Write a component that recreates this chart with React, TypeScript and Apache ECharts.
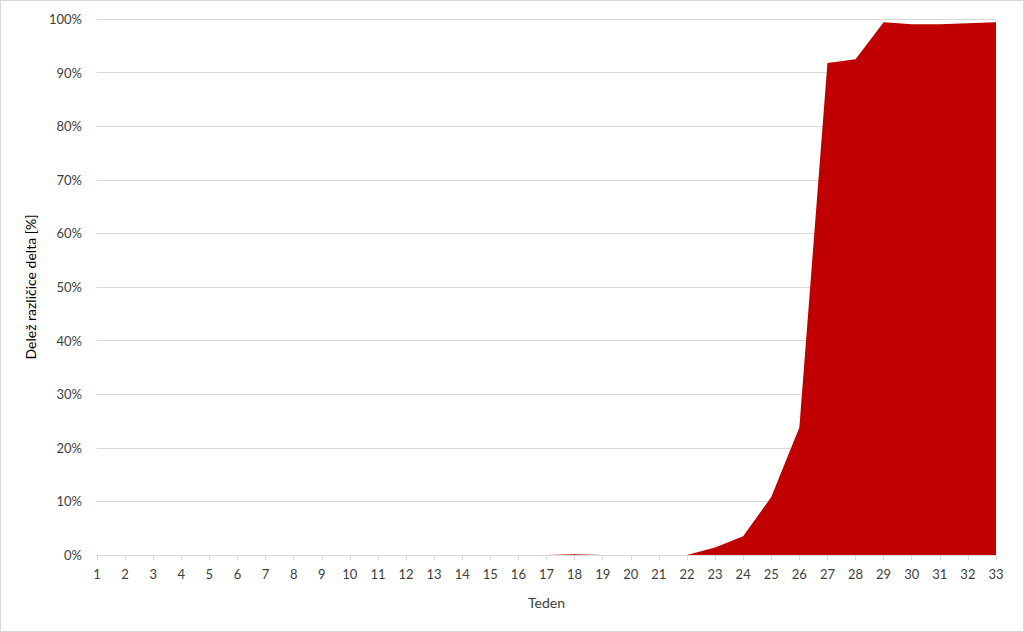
import React, { useEffect, useRef } from "react";
import * as echarts from "echarts";

const weeks = Array.from({ length: 33 }, (_, i) => String(i + 1));
const deltaShare = [
  0, 0, 0, 0, 0, 0, 0, 0, 0, 0,
  0, 0, 0, 0, 0, 0, 0, 0.15, 0, 0,
  0, 0, 1.4, 3.5, 10.8, 23.8, 91.8, 92.5, 99.4, 99.0,
  99.0, 99.2, 99.4,
];
const yTicks = [0, 10, 20, 30, 40, 50, 60, 70, 80, 90, 100];

export default function App() {
  const ref = useRef<HTMLDivElement>(null);
  useEffect(() => {
    document.body.style.margin = "0";
    const chart = echarts.init(ref.current!, null, { renderer: "svg" });
    const font = "Lato, 'Open Sans', sans-serif";
    chart.setOption({
      animation: false,
      backgroundColor: "transparent",
      grid: { left: 97, right: 28, top: 19, bottom: 77 },
      xAxis: {
        type: "category",
        data: weeks,
        boundaryGap: false,
        name: "Teden",
        nameLocation: "middle",
        nameGap: 40,
        nameTextStyle: { color: "#404040", fontSize: 14, fontFamily: font },
        axisLine: { lineStyle: { color: "#D9D9D9", width: 1 } },
        axisTick: { show: true, length: 5, lineStyle: { color: "#D9D9D9" } },
        axisLabel: { color: "#404040", fontSize: 13, fontFamily: font, margin: 12, interval: 0 },
      },
      yAxis: {
        type: "value",
        min: 0,
        max: 100,
        interval: 10,
        name: "Delež različice delta [%]",
        nameLocation: "middle",
        nameGap: 60,
        nameRotate: 90,
        nameTextStyle: { color: "#000000", fontSize: 14, fontFamily: font },
        axisLine: { show: false },
        axisTick: { show: false },
        axisLabel: {
          color: "#404040",
          fontSize: 13,
          fontFamily: font,
          margin: 15,
          formatter: (v: number) => (yTicks.includes(v) ? v + "%" : ""),
        },
        splitLine: { lineStyle: { color: "#D9D9D9", width: 1 } },
      },
      series: [
        {
          type: "line",
          data: deltaShare,
          symbol: "none",
          lineStyle: { width: 0, color: "#C00000" },
          areaStyle: { color: "#C00000", opacity: 1 },
        },
      ],
    });
    return () => chart.dispose();
  }, []);
  return (
    <div style={{ width: 1024, height: 632, position: "relative", background: "#ffffff" }}>
      <div ref={ref} style={{ position: "absolute", left: 0, top: 0, width: 1024, height: 632 }} />
      <div
        style={{
          position: "absolute",
          left: 0,
          top: 0,
          width: 1024,
          height: 632,
          boxSizing: "border-box",
          border: "1px solid #D9D9D9",
          pointerEvents: "none",
        }}
      />
    </div>
  );
}
